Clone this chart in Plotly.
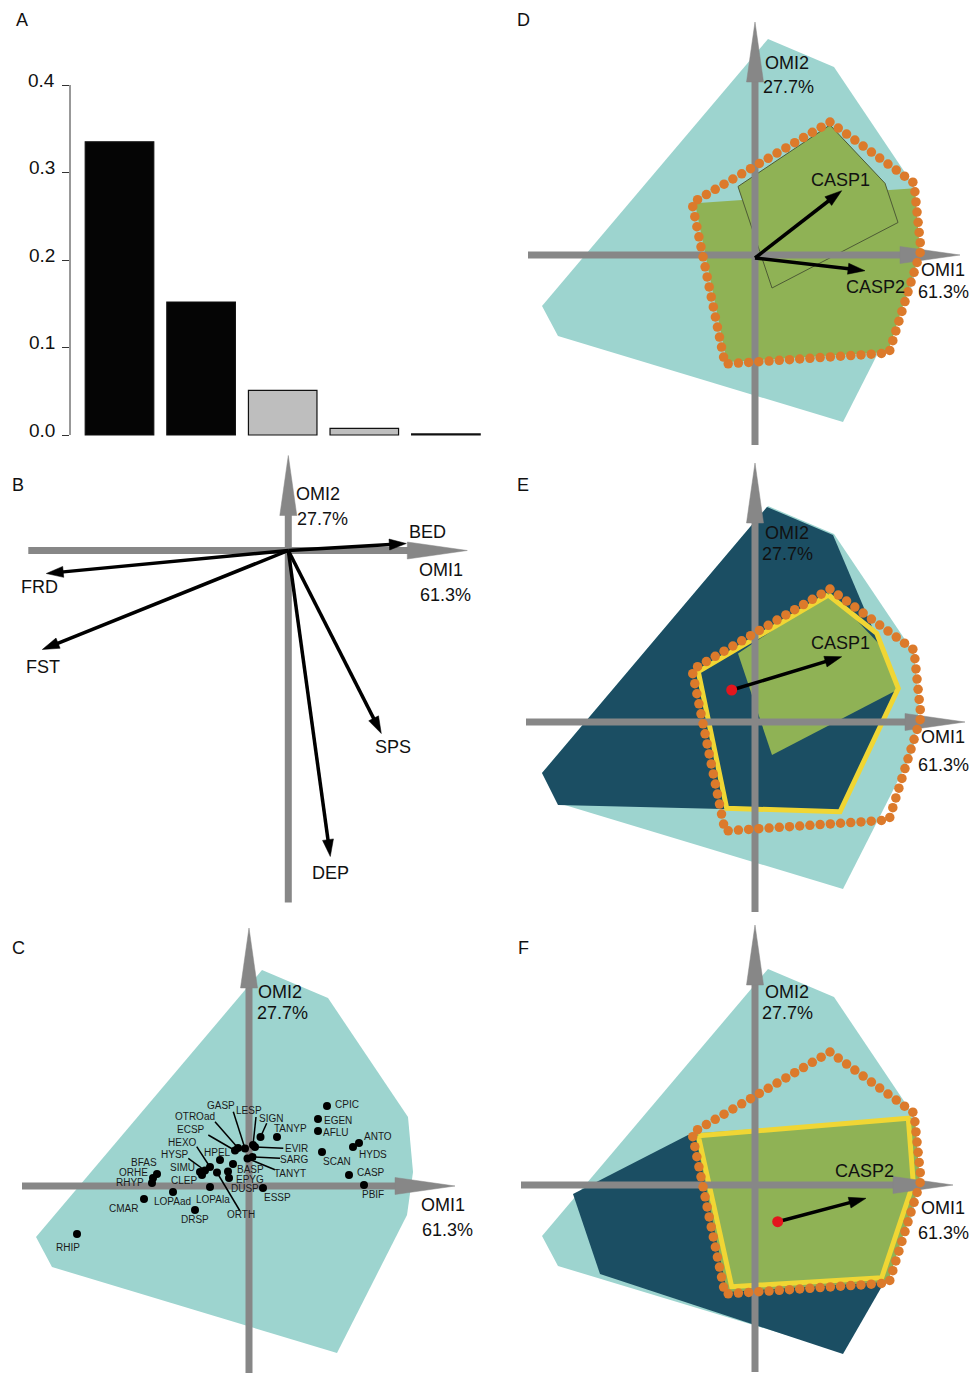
import numpy as np
import plotly.graph_objects as go

W, H = 971, 1374
PX = 100.0  # pixels per ordination unit (all ordination panels share one scale)

# ---------------- DATA ----------------
# A: eigenvalues of the OMI analysis
eig_rank = [1, 2, 3, 4, 5]
eig_values = [0.335, 0.152, 0.051, 0.0076, 0.0012]
eig_kept = [True, True, False, False, False]

omi_axes = ["OMI1", "OMI2"]
omi_inertia = ["61.3%", "27.7%"]

# B: environmental variables (canonical weights)
env_vars = ["BED", "FRD", "FST", "SPS", "DEP"]
env_x = [1.18, -2.42, -2.46, 0.93, 0.42]
env_y = [0.07, -0.23, -0.99, -1.83, -3.06]

# C: species niche positions
species = ["CPIC", "EGEN", "AFLU", "ANTO", "HYDS", "SCAN", "CASP", "PBIF", "ESSP", "TANYP",
           "SIGN", "LESP", "EVIR", "GASP", "OTROad", "ECSP", "SARG", "TANYT", "HPEL", "BASP",
           "EPYG", "DUSP", "ORTH", "HEXO", "HYSP", "SIMU", "CLEP", "LOPAla", "LOPAad", "DRSP",
           "CMAR", "BFAS", "ORHE", "RHYP", "RHIP"]
sp_x = [0.78, 0.69, 0.69, 1.10, 1.04, 0.73, 1.00, 1.15, 0.14, 0.28,
        0.115, 0.04, 0.06, -0.04, -0.11, -0.14, 0.035, -0.015, -0.29, -0.16,
        -0.21, -0.20, -0.32, -0.39, -0.44, -0.49, -0.47, -0.39, -0.76, -0.54,
        -1.05, -0.92, -0.96, -0.97, -1.72]
sp_y = [0.80, 0.67, 0.55, 0.43, 0.39, 0.34, 0.11, 0.01, -0.02, 0.49,
        0.49, 0.41, 0.39, 0.375, 0.38, 0.355, 0.29, 0.275, 0.26, 0.22,
        0.145, 0.08, 0.135, 0.19, 0.155, 0.14, 0.11, -0.01, -0.06, -0.24,
        -0.13, 0.12, 0.08, 0.03, -0.48]

# environmental space hulls
env_hull_x = [0.13, 0.79, 1.59, 1.64, 1.58, 0.88, -1.97, -2.13]
env_hull_y = [2.16, 1.88, 0.69, 0.14, -0.29, -1.67, -0.81, -0.51]
sub1_hull_x = [0.12, 0.78, 1.43, 0.85, -1.97, -2.13]
sub1_hull_y = [2.15, 1.87, 0.34, -0.90, -0.83, -0.51]
sub2_hull_x = [-0.67, -1.82, -1.55, 0.88, 1.30, 1.61, 1.56]
sub2_hull_y = [0.50, -0.09, -0.89, -1.69, -0.96, 0.02, 0.67]

# CASP niche hulls
casp_hull_x = [0.75, 1.59, 1.66, 1.34, -0.30, -0.63]
casp_hull_y = [1.33, 0.72, 0.05, -0.98, -1.09, 0.52]
casp1_hull_x = [-0.17, 0.75, 1.30, 1.43, 0.17]
casp1_hull_y = [0.685, 1.30, 0.717, 0.325, -0.33]
casp2_hull_x = [-0.60, 1.60, 1.65, 1.33, -0.28]
casp2_hull_y = [0.517, 0.667, 0.02, -0.97, -1.07]
sub1_casp_x = [0.733, 1.217, 1.433, 0.85, -0.283, -0.567]
sub1_casp_y = [1.27, 0.887, 0.337, -0.897, -0.863, 0.503]
sub2_casp_x = [-0.567, 1.533, 1.583, 1.267, -0.233]
sub2_casp_y = [0.493, 0.667, 0.017, -0.927, -1.017]

# marginality vectors
casp_marg_names = ["CASP1", "CASP2"]
casp_marg_x = [0.867, 1.10]
casp_marg_y = [0.643, -0.157]
sub_centroid_x = [-0.233, 0.227]
sub_centroid_y = [0.32, -0.367]
sub_marg_x = [0.867, 1.11]
sub_marg_y = [0.653, -0.133]

# ---------------- STYLE / LAYOUT ----------------
TEAL = "#9dd4cf"
GREEN = "#8fb255"
NAVY = "#1b4e63"
YELLOW = "#f0d634"
ORANGE = "#dc7a2b"
GRAY = "#878787"
RED = "#e3161d"
FONT = "Liberation Sans, Arial, sans-serif"

BOX = {"B": (0, 490, 450, 920), "C": (0, 490, 920, 1374),
       "D": (490, 971, 0, 450), "E": (490, 971, 450, 920), "F": (490, 971, 920, 1374)}
ORIGIN = {"B": (288.3, 550.5), "C": (249, 1186), "D": (755, 255), "E": (755, 722), "F": (755, 1185)}
AXN = {"A": ("x", "y"), "B": ("x2", "y2"), "C": ("x3", "y3"), "D": ("x4", "y4"),
       "E": ("x5", "y5"), "F": ("x6", "y6")}
# axis arrow extents (px relative to origin): left, right, down, up
AXEXT = {"B": (260, 179, 352, 95), "C": (227, 206, 187, 258), "D": (227, 205, 190, 233),
         "E": (229, 210, 190, 259), "F": (234, 198, 187, 260)}
# axis label offsets (px relative to origin)
AXLAB = {"B": [(30, -57), (34, -32), (153, 19), (157, 44)],
         "C": [(31, -194), (33, -173), (194, 19), (198, 44)],
         "D": [(32, -192), (33, -168), (188, 15), (188, 37)],
         "E": [(32, -189), (32, -168), (188, 15), (188, 43)],
         "F": [(32, -193), (32, -172), (188, 23), (188, 48)]}

fig = go.Figure()
layout = dict(width=W, height=H, margin=dict(l=0, r=0, t=0, b=0),
              paper_bgcolor="white", plot_bgcolor="white", showlegend=False)
annotations = []
shapes = []


def px2d(panel, dx, dy):
    return dx / PX, -dy / PX


for p, (bx0, bx1, by0, by1) in BOX.items():
    ox, oy = ORIGIN[p]
    xa, ya = AXN[p]
    layout["xaxis" + xa[1:]] = dict(domain=[bx0 / W, bx1 / W], range=[(bx0 - ox) / PX, (bx1 - ox) / PX],
                                    visible=False, anchor=ya, fixedrange=True)
    layout["yaxis" + ya[1:]] = dict(domain=[1 - by1 / H, 1 - by0 / H], range=[(oy - by1) / PX, (oy - by0) / PX],
                                    visible=False, anchor=xa, fixedrange=True)


def poly(p, xs, ys, fill, line_color=None, line_width=0):
    xa, ya = AXN[p]
    fig.add_trace(go.Scatter(x=list(xs) + [xs[0]], y=list(ys) + [ys[0]], mode="lines", fill="toself",
                             fillcolor=fill if fill else "rgba(0,0,0,0)",
                             line=dict(color=line_color or "rgba(0,0,0,0)", width=line_width),
                             xaxis=xa, yaxis=ya, hoverinfo="skip"))


def outline(p, xs, ys, color, width):
    xa, ya = AXN[p]
    fig.add_trace(go.Scatter(x=list(xs) + [xs[0]], y=list(ys) + [ys[0]], mode="lines",
                             line=dict(color=color, width=width), xaxis=xa, yaxis=ya, hoverinfo="skip"))


def arrow(p, x0, y0, x1, y1, color, width, head_len, head_w):
    xa, ya = AXN[p]
    dx, dy = x1 - x0, y1 - y0
    L = np.hypot(dx, dy)
    ux, uy = dx / L, dy / L
    bx, by = x1 - ux * head_len, y1 - uy * head_len
    fig.add_trace(go.Scatter(x=[x0, bx + ux * head_len * 0.3], y=[y0, by + uy * head_len * 0.3], mode="lines",
                             line=dict(color=color, width=width), xaxis=xa, yaxis=ya, hoverinfo="skip"))
    fig.add_trace(go.Scatter(x=[x1, bx - uy * head_w, bx + uy * head_w, x1],
                             y=[y1, by + ux * head_w, by - ux * head_w, y1],
                             mode="lines", fill="toself", fillcolor=color,
                             line=dict(color=color, width=0.5), xaxis=xa, yaxis=ya, hoverinfo="skip"))


def axes_arrows(p):
    l, r, d, u = AXEXT[p]
    arrow(p, -l / PX, 0, r / PX, 0, GRAY, 7, 0.60, 0.085)
    arrow(p, 0, -d / PX, 0, u / PX, GRAY, 7, 0.60, 0.085)


def axis_labels(p):
    texts = [omi_axes[1], omi_inertia[1], omi_axes[0], omi_inertia[0]]
    xa, ya = AXN[p]
    for t, (dx, dy) in zip(texts, AXLAB[p]):
        x, y = px2d(p, dx, dy)
        annotations.append(dict(x=x, y=y, xref=xa, yref=ya, text=t, showarrow=False,
                                xanchor="center", yanchor="middle", font=dict(size=18, color="#111", family=FONT)))


def label(p, text, dx, dy, size=18):
    xa, ya = AXN[p]
    x, y = px2d(p, dx, dy)
    annotations.append(dict(x=x, y=y, xref=xa, yref=ya, text=text, showarrow=False,
                            xanchor="center", yanchor="middle", font=dict(size=size, color="#111", family=FONT)))


def dotted(p, xs, ys, color, spacing_px=10.2, size=9.5):
    xa, ya = AXN[p]
    pts = np.column_stack([list(xs) + [xs[0]], list(ys) + [ys[0]]])
    seg = np.diff(pts, axis=0)
    L = np.hypot(seg[:, 0], seg[:, 1])
    cum = np.concatenate([[0], np.cumsum(L)])
    total = cum[-1]
    n = int(round(total * PX / spacing_px))
    s = np.arange(n) * total / n
    idx = np.clip(np.searchsorted(cum, s, side="right") - 1, 0, len(L) - 1)
    t = (s - cum[idx]) / L[idx]
    fig.add_trace(go.Scatter(x=pts[idx, 0] + t * seg[idx, 0], y=pts[idx, 1] + t * seg[idx, 1], mode="markers",
                             marker=dict(color=color, size=size, line=dict(width=0)),
                             xaxis=xa, yaxis=ya, hoverinfo="skip"))


# ---------------- Panel A ----------------
c_bar = 119.5
pitch = 81.6
layout["xaxis"] = dict(domain=[70 / W, 490 / W], range=[1 + (70 - c_bar) / pitch, 1 + (490 - c_bar) / pitch],
                       visible=False, anchor="y", fixedrange=True)
layout["yaxis"] = dict(domain=[1 - 450 / H, 1.0], range=[(435 - 450) / 875, 435 / 875], anchor="x",
                       showgrid=False, zeroline=False, showline=False, ticks="outside", ticklen=7,
                       tickcolor="#333", tickwidth=1, tickvals=[0, 0.1, 0.2, 0.3, 0.4],
                       showticklabels=False, fixedrange=True)
fig.add_trace(go.Bar(x=eig_rank, y=eig_values, width=0.84,
                     marker=dict(color=["#050505" if k else "#bebebe" for k in eig_kept],
                                 line=dict(color="#111", width=1.2)),
                     xaxis="x", yaxis="y", hoverinfo="skip"))
shapes.append(dict(type="line", xref="x domain", yref="y", x0=0, x1=0, y0=0, y1=0.4,
                   line=dict(color="#333", width=1)))
for v in [0, 0.1, 0.2, 0.3, 0.4]:
    annotations.append(dict(x=0, y=v, xref="x domain", yref="y", text=f"{v:.1f}", showarrow=False,
                            xanchor="right", yanchor="middle", xshift=-13, yshift=5,
                            font=dict(size=19, color="#111", family=FONT)))

# ---------------- Panel B ----------------
axes_arrows("B")
env_lab_off = {"BED": (139, -19), "FRD": (-249, 36), "FST": (-245, 116), "SPS": (105, 196), "DEP": (42, 322)}
for n, x, y in zip(env_vars, env_x, env_y):
    arrow("B", 0, 0, x, y, "black", 3.5, 0.17, 0.055)
    label("B", n, *env_lab_off[n])
axis_labels("B")

# ---------------- Panel C ----------------
poly("C", env_hull_x, env_hull_y, TEAL)
axes_arrows("C")
sp_label_pos = {"CPIC": (0.98, 0.82), "EGEN": (0.89, 0.66), "AFLU": (0.87, 0.54), "ANTO": (1.29, 0.50),
                "HYDS": (1.24, 0.32), "SCAN": (0.88, 0.25), "CASP": (1.22, 0.14), "PBIF": (1.24, -0.08),
                "ESSP": (0.28, -0.11), "TANYP": (0.41, 0.58), "SIGN": (0.22, 0.68), "LESP": (0.00, 0.76),
                "EVIR": (0.47, 0.38), "GASP": (-0.28, 0.81), "OTROad": (-0.54, 0.70), "ECSP": (-0.58, 0.57),
                "SARG": (0.45, 0.27), "TANYT": (0.41, 0.13), "HPEL": (-0.32, 0.34), "BASP": (0.01, 0.17),
                "EPYG": (0.01, 0.07), "DUSP": (-0.04, -0.02), "ORTH": (-0.08, -0.28), "HEXO": (-0.67, 0.44),
                "HYSP": (-0.74, 0.32), "SIMU": (-0.67, 0.19), "CLEP": (-0.65, 0.06), "LOPAla": (-0.36, -0.13),
                "LOPAad": (-0.77, -0.15), "DRSP": (-0.54, -0.33), "CMAR": (-1.26, -0.22), "BFAS": (-1.05, 0.24),
                "ORHE": (-1.16, 0.14), "RHYP": (-1.19, 0.04), "RHIP": (-1.81, -0.61)}
leader_end = {"SIGN": (0.177, 0.627), "LESP": (0.07, 0.69), "GASP": (-0.157, 0.743), "OTROad": (-0.34, 0.643),
              "ECSP": (-0.407, 0.51), "EVIR": (0.343, 0.377), "SARG": (0.31, 0.277), "TANYT": (0.26, 0.163),
              "HEXO": (-0.523, 0.393), "HYSP": (-0.607, 0.277), "ORTH": (-0.09, -0.25)}
for n, x, y in zip(species, sp_x, sp_y):
    if n in leader_end:
        ex, ey = leader_end[n]
        fig.add_trace(go.Scatter(x=[x, ex], y=[y, ey], mode="lines", line=dict(color="black", width=1.5),
                                 xaxis="x3", yaxis="y3", hoverinfo="skip"))
fig.add_trace(go.Scatter(x=sp_x, y=sp_y, mode="markers", marker=dict(color="black", size=8),
                         xaxis="x3", yaxis="y3", hoverinfo="skip"))
for n in species:
    lx, ly = sp_label_pos[n]
    annotations.append(dict(x=lx, y=ly, xref="x3", yref="y3", text=n, showarrow=False,
                            xanchor="center", yanchor="middle", font=dict(size=10, color="#1a1a1a", family=FONT)))
axis_labels("C")

# ---------------- Panel D ----------------
poly("D", env_hull_x, env_hull_y, TEAL)
poly("D", casp2_hull_x, casp2_hull_y, GREEN)
poly("D", casp1_hull_x, casp1_hull_y, GREEN, "#4d5a35", 1)
axes_arrows("D")
dotted("D", casp_hull_x, casp_hull_y, ORANGE)
for n, x, y in zip(casp_marg_names, casp_marg_x, casp_marg_y):
    arrow("D", 0, -0.03, x, y, "black", 3.5, 0.17, 0.055)
label("D", "CASP1", 85, -75)
label("D", "CASP2", 120, 32)
axis_labels("D")

# ---------------- Panel E ----------------
poly("E", env_hull_x, env_hull_y, TEAL)
poly("E", sub1_hull_x, sub1_hull_y, NAVY)
poly("E", casp1_hull_x, casp1_hull_y, GREEN)
outline("E", sub1_casp_x, sub1_casp_y, YELLOW, 5)
axes_arrows("E")
dotted("E", casp_hull_x, casp_hull_y, ORANGE)
arrow("E", sub_centroid_x[0], sub_centroid_y[0], sub_marg_x[0], sub_marg_y[0], "black", 3.5, 0.17, 0.055)
fig.add_trace(go.Scatter(x=[sub_centroid_x[0]], y=[sub_centroid_y[0]], mode="markers",
                         marker=dict(color=RED, size=11), xaxis="x5", yaxis="y5", hoverinfo="skip"))
label("E", "CASP1", 85, -79)
axis_labels("E")

# ---------------- Panel F ----------------
poly("F", env_hull_x, env_hull_y, TEAL)
poly("F", sub2_hull_x, sub2_hull_y, NAVY)
poly("F", casp2_hull_x, casp2_hull_y, GREEN)
outline("F", sub2_casp_x, sub2_casp_y, YELLOW, 5)
axes_arrows("F")
dotted("F", casp_hull_x, casp_hull_y, ORANGE)
arrow("F", sub_centroid_x[1], sub_centroid_y[1], sub_marg_x[1], sub_marg_y[1], "black", 3.5, 0.17, 0.055)
fig.add_trace(go.Scatter(x=[sub_centroid_x[1]], y=[sub_centroid_y[1]], mode="markers",
                         marker=dict(color=RED, size=11), xaxis="x6", yaxis="y6", hoverinfo="skip"))
label("F", "CASP2", 109, -14)
axis_labels("F")

# ---------------- panel letters ----------------
for t, (x, y) in zip("ABCDEF", [(22, 20), (18, 485), (18, 948), (523, 20), (523, 485), (523, 948)]):
    annotations.append(dict(x=x / W, y=1 - y / H, xref="paper", yref="paper", text=t, showarrow=False,
                            xanchor="center", yanchor="middle", font=dict(size=18, color="#111", family=FONT)))

layout["annotations"] = annotations
layout["shapes"] = shapes
fig.update_layout(**layout)
fig.write_html("out.html", config={"displayModeBar": False},
               post_script="document.body.style.margin='0';document.body.style.padding='0';")
